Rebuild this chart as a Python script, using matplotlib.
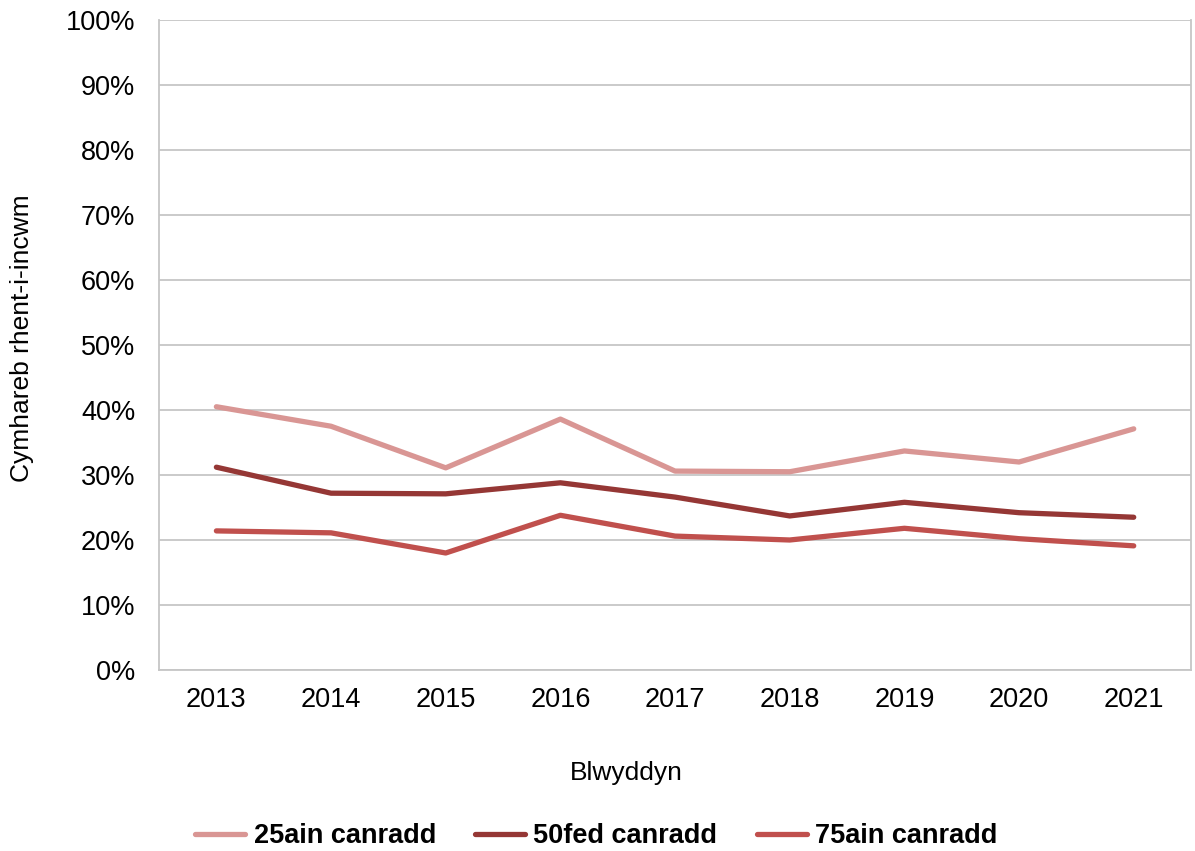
import matplotlib.pyplot as plt
from matplotlib.ticker import PercentFormatter

plt.rcParams['font.family'] = ['Liberation Sans', 'DejaVu Sans']

years = ['2013', '2014', '2015', '2016', '2017', '2018', '2019', '2020', '2021']
p25 = [40.5, 37.5, 31.1, 38.6, 30.6, 30.5, 33.7, 32.0, 37.1]
p50 = [31.2, 27.2, 27.1, 28.8, 26.6, 23.7, 25.8, 24.2, 23.5]
p75 = [21.4, 21.1, 18.0, 23.8, 20.6, 20.0, 21.8, 20.2, 19.1]

series = [
    ('25ain canradd', p25, '#D99694'),
    ('50fed canradd', p50, '#953735'),
    ('75ain canradd', p75, '#C0504D'),
]

fig = plt.figure(figsize=(11.95, 8.51), dpi=100)
ax = fig.add_axes([0.1331, 0.2127, 0.8636, 0.7638])

x = range(len(years))
for name, vals, col in series:
    ax.plot(x, vals, color=col, lw=3.8, solid_capstyle='round', label=name)

ax.set_xlim(-0.5, len(years) - 0.5)
ax.set_ylim(0, 100)
ax.set_yticks(range(0, 101, 10))
ax.yaxis.set_major_formatter(PercentFormatter(decimals=0))
ax.set_xticks(list(x))
ax.set_xticklabels(years)
ax.tick_params(axis='both', labelsize=19.5, length=0, colors='black')
ax.tick_params(axis='x', pad=12)
ax.tick_params(axis='y', pad=17)

ax.grid(axis='y', color='#C6C6C6', lw=1.3)
ax.set_axisbelow(True)
for s in ['left', 'right', 'bottom']:
    ax.spines[s].set_color('#C6C6C6')
    ax.spines[s].set_linewidth(1.3)
ax.spines['top'].set_visible(False)

ax.set_xlabel('Blwyddyn', fontsize=19, va='center')
ax.xaxis.set_label_coords(0.453, -0.158)
ax.set_ylabel('Cymhareb rhent-i-incwm', fontsize=19, va='center')
ax.yaxis.set_label_coords(-0.1328, 0.51)

fig.legend(loc='center', bbox_to_anchor=(0.499, 0.0176), ncol=3, frameon=False,
           prop={'size': 19.5, 'weight': 'bold'}, handlelength=1.85,
           handletextpad=0.3, columnspacing=1.45)

fig.savefig('out.png', dpi=100)
